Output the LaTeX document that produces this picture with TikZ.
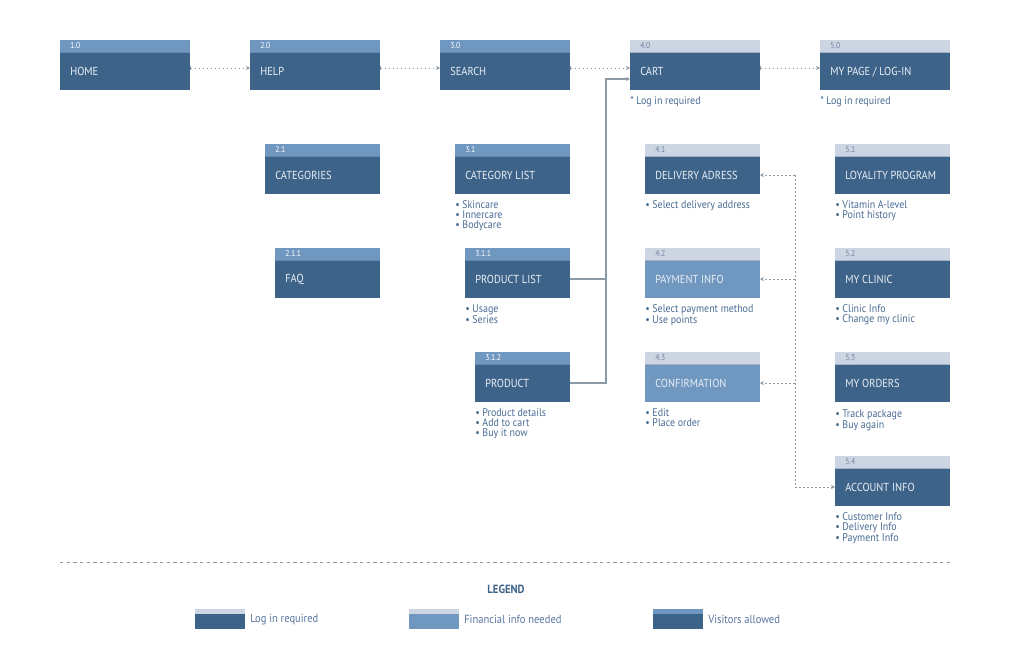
\documentclass[tikz,border=0pt]{standalone}
\usepackage{fontspec}
\setmainfont{PT Sans}[FakeStretch=0.9]
\usetikzlibrary{arrows.meta,calc}
\definecolor{dk}{HTML}{3E6389}
\definecolor{md}{HTML}{7097C0}
\definecolor{lt}{HTML}{CDD5E2}
\definecolor{txt}{HTML}{4A6C95}
\definecolor{legtxt}{HTML}{5A76A0}
\definecolor{conn}{HTML}{8C9AA6}
\definecolor{numlt}{HTML}{6C84A4}
\definecolor{lbltxt}{HTML}{EAF0F6}
\tikzset{
 hdr/.style={anchor=north west, minimum height=9pt, inner sep=0pt, outer sep=0pt},
 bdy/.style={anchor=north west, minimum height=28.5pt, inner sep=0pt, outer sep=0pt},
 num/.style={anchor=west, inner sep=0pt, font=\fontsize{6.4}{6.4}\selectfont},
 lbl/.style={anchor=west, inner sep=0pt, text=lbltxt, font=\fontsize{8.7}{9}\selectfont},
 blist/.style={anchor=north west, inner sep=0pt, align=left, text=txt, font=\fontsize{8.3}{7.5}\selectfont},
 dotc/.style={draw=conn, line width=0.6pt, dash pattern=on 1.2pt off 1.8pt},
 solc/.style={draw=conn, line width=0.8pt},
 endtip/.style={-{Stealth[length=3pt,width=3pt]}},
 bothtip/.style={{Bar[width=3pt,line width=0.5pt]}-{Stealth[length=3pt,width=3pt]}},
}
\newcommand\mkbox[9]{%
 \node[hdr,fill=#7,minimum width={#4*0.75pt}] (#1h) at (#2,#3) {};
 \node[bdy,fill=#8,minimum width={#4*0.75pt}] (#1) at (#2,#3+12) {};
 \draw[line width=0.6pt,draw=#7!70!dk] (#1.north west) -- (#1.north east);
 \node[num,text=#9] (#1n) at ([xshift=7.5pt]#1h.west) {#5};
 \node[lbl] (#1t) at ([xshift=7.5pt,yshift=-0.6pt]#1.west) {#6};
}
\begin{document}
\begin{tikzpicture}[x=0.75pt,y=-0.75pt]
\useasboundingbox[fill=white] (0,0) rectangle (1010,669);
% top row
\mkbox{home}{60}{40}{130}{1.0}{HOME}{md}{dk}{white}
\mkbox{help}{250}{40}{130}{2.0}{HELP}{md}{dk}{white}
\mkbox{search}{440}{40}{130}{3.0}{SEARCH}{md}{dk}{white}
\mkbox{cart}{630}{40}{130}{4.0}{CART}{lt}{dk}{numlt}
\mkbox{mypage}{820}{40}{130}{5.0}{MY PAGE / LOG-IN}{lt}{dk}{numlt}
% column 2
\mkbox{cat}{265}{144}{115}{2.1}{CATEGORIES}{md}{dk}{white}
\mkbox{faq}{275}{248}{105}{2.1.1}{FAQ}{md}{dk}{white}
% column 3
\mkbox{catlist}{455}{144}{115}{3.1}{CATEGORY LIST}{md}{dk}{white}
\mkbox{plist}{465}{248}{105}{3.1.1}{PRODUCT LIST}{md}{dk}{white}
\mkbox{prod}{475}{352}{95}{3.1.2}{PRODUCT}{md}{dk}{white}
% column 4
\mkbox{deliv}{645}{144}{115}{4.1}{DELIVERY ADRESS}{lt}{dk}{numlt}
\mkbox{pay}{645}{248}{115}{4.2}{PAYMENT INFO}{lt}{md}{numlt}
\mkbox{conf}{645}{352}{115}{4.3}{CONFIRMATION}{lt}{md}{numlt}
% column 5
\mkbox{loyal}{835}{144}{115}{5.1}{LOYALITY PROGRAM}{lt}{dk}{numlt}
\mkbox{clinic}{835}{248}{115}{5.2}{MY CLINIC}{lt}{dk}{numlt}
\mkbox{orders}{835}{352}{115}{5.3}{MY ORDERS}{lt}{dk}{numlt}
\mkbox{acct}{835}{456}{115}{5.4}{ACCOUNT INFO}{lt}{dk}{numlt}
% notes and lists
\node[blist] (cartnote) at (630,96) {* Log in required};
\node[blist] (mypagenote) at (820,96) {* Log in required};
\node[blist] (catlistl) at (455,200) {• Skincare\\• Innercare\\• Bodycare};
\node[blist] (plistl) at (465,304) {• Usage\\• Series};
\node[blist] (prodl) at (475,408) {• Product details\\• Add to cart\\• Buy it now};
\node[blist] (delivl) at (645,200) {• Select delivery address};
\node[blist] (payl) at (645,304) {• Select payment method\\• Use points};
\node[blist] (confl) at (645,408) {• Edit\\• Place order};
\node[blist] (loyall) at (835,200) {• Vitamin A-level\\• Point history};
\node[blist] (clinicl) at (835,304) {• Clinic Info\\• Change my clinic};
\node[blist] (ordersl) at (835,409) {• Track package\\• Buy again};
\node[blist] (acctl) at (835,512) {• Customer Info\\• Delivery Info\\• Payment Info};
% top connectors
\draw[dotc,bothtip] ([yshift=2.25pt]home.east) -- ([yshift=2.25pt]help.west);
\draw[dotc,bothtip] ([yshift=2.25pt]help.east) -- ([yshift=2.25pt]search.west);
\draw[dotc,bothtip] ([yshift=2.25pt]search.east) -- ([yshift=2.25pt]cart.west);
\draw[dotc,bothtip] ([yshift=2.25pt]cart.east) -- ([yshift=2.25pt]mypage.west);
% solid connectors product -> cart
\coordinate (jx) at (606,0);
\coordinate (cartin) at ([yshift=-6pt]cart.west);
\draw[solc] (plist.east) -- (jx |- plist.east);
\draw[solc,endtip] (prod.east) -- (jx |- prod.east) -- (jx |- cartin) -- (cartin);
% dotted tree
\coordinate (tx) at (795,0);
\draw[dotc] (tx |- deliv.east) -- (tx |- acct.west);
\draw[dotc,endtip] (tx |- deliv.east) -- (deliv.east);
\draw[dotc,endtip] (tx |- pay.east) -- (pay.east);
\draw[dotc,endtip] (tx |- conf.east) -- (conf.east);
\draw[dotc,endtip] (tx |- acct.west) -- (acct.west);
% separator
\coordinate (sepl) at (60,562);
\coordinate (sepr) at (950,562);
\draw[draw=conn, line width=0.7pt, dash pattern=on 2.6pt off 2.4pt] (sepl) -- (sepr);
% legend
\node[inner sep=0pt, text=dk, font=\bfseries\fontsize{8.9}{9}\selectfont] (legend) at (506,589) {LEGEND};
\node[hdr,fill=lt,minimum width=37.5pt,minimum height=3.75pt] (lg1h) at (195,609) {};
\node[bdy,fill=dk,minimum width=37.5pt,minimum height=11.25pt] (lg1) at (195,614) {};
\node[blist,anchor=west,text=legtxt,font=\fontsize{8.8}{9}\selectfont] (lg1t) at (250,619.5) {Log in required};
\node[hdr,fill=lt,minimum width=37.5pt,minimum height=3.75pt] (lg2h) at (409,609) {};
\node[bdy,fill=md,minimum width=37.5pt,minimum height=11.25pt] (lg2) at (409,614) {};
\node[blist,anchor=west,text=legtxt,font=\fontsize{8.8}{9}\selectfont] (lg2t) at (464,619.5) {Financial info needed};
\node[hdr,fill=md,minimum width=37.5pt,minimum height=3.75pt] (lg3h) at (653,609) {};
\node[bdy,fill=dk,minimum width=37.5pt,minimum height=11.25pt] (lg3) at (653,614) {};
\node[blist,anchor=west,text=legtxt,font=\fontsize{8.8}{9}\selectfont] (lg3t) at (708,619.5) {Visitors allowed};
\end{tikzpicture}
\end{document}
